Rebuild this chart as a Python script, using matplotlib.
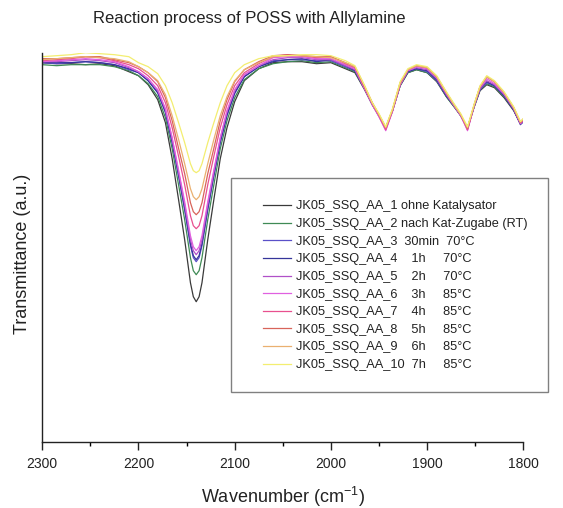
import matplotlib
matplotlib.use("Agg")
import matplotlib.pyplot as plt
from matplotlib.patches import Rectangle

plt.rcParams['font.family'] = ['Liberation Sans', 'DejaVu Sans']
plt.rcParams['mathtext.fontset'] = 'custom'
plt.rcParams['mathtext.rm'] = 'Liberation Sans'

# wavenumber grid (cm-1)
wavenumber = [2300, 2285, 2270, 2255, 2240, 2225, 2210,
              2200, 2190, 2180, 2172, 2165, 2158, 2152, 2146, 2143, 2140,
              2137, 2134, 2128, 2122, 2115, 2108, 2100, 2090, 2075,
              2060, 2045, 2030, 2015, 2000, 1985, 1975, 1965, 1957, 1950,
              1943, 1936, 1928, 1920, 1911, 1900, 1890, 1880, 1872, 1865,
              1858, 1851, 1845, 1838, 1830, 1820, 1810, 1803, 1800]

# transmittance (a.u.) per sample
aa_1 = [379, 378, 378, 377, 378, 376, 370,
        366, 357, 342, 319, 283, 240, 202, 159, 145, 140,
        145, 159, 202, 240, 283, 314, 340, 361, 373,
        379, 380, 380, 378, 379, 373, 369, 352, 337, 326,
        314, 331, 356, 369, 372, 369, 360, 345, 335, 326,
        314, 335, 351, 357, 354, 344, 331, 318, 320]
aa_2 = [377, 376, 377, 377, 377, 375, 371,
        366, 358, 345, 324, 293, 255, 222, 184, 171, 167,
        171, 184, 222, 255, 293, 321, 344, 362, 373,
        378, 380, 381, 379, 380, 374, 370, 353, 337, 326,
        314, 331, 356, 369, 372, 369, 361, 345, 335, 326,
        314, 335, 352, 358, 355, 345, 332, 318, 321]
aa_3 = [379, 378, 379, 380, 379, 377, 372,
        369, 361, 349, 329, 299, 264, 232, 196, 184, 180,
        184, 196, 232, 264, 299, 326, 348, 365, 375,
        381, 382, 382, 381, 381, 375, 371, 353, 338, 326,
        313, 331, 357, 370, 373, 370, 361, 346, 336, 326,
        313, 336, 352, 359, 356, 346, 332, 318, 320]
aa_4 = [379, 379, 379, 380, 379, 377, 373,
        369, 361, 349, 330, 300, 265, 233, 198, 186, 182,
        186, 198, 233, 265, 300, 327, 349, 365, 375,
        380, 382, 383, 380, 382, 376, 371, 354, 338, 326,
        313, 331, 357, 370, 373, 371, 362, 346, 336, 326,
        313, 336, 353, 360, 356, 346, 332, 317, 320]
aa_5 = [380, 380, 381, 382, 381, 379, 374,
        370, 363, 351, 332, 303, 268, 237, 202, 191, 187,
        191, 202, 237, 268, 303, 330, 351, 367, 376,
        382, 384, 384, 382, 382, 376, 372, 353, 337, 325,
        312, 331, 357, 371, 374, 372, 363, 347, 336, 326,
        312, 336, 353, 361, 357, 347, 333, 318, 321]
aa_6 = [380, 381, 382, 383, 382, 380, 375,
        370, 363, 352, 333, 304, 270, 240, 206, 195, 191,
        195, 206, 240, 270, 304, 331, 352, 367, 376,
        384, 385, 385, 383, 383, 377, 373, 353, 337, 325,
        311, 330, 357, 371, 375, 373, 364, 348, 336, 326,
        311, 336, 354, 363, 358, 348, 333, 318, 321]
aa_7 = [381, 382, 383, 385, 384, 381, 377,
        373, 366, 356, 339, 314, 284, 257, 226, 216, 213,
        216, 226, 257, 284, 314, 337, 356, 369, 378,
        385, 387, 386, 384, 385, 378, 374, 354, 338, 326,
        312, 331, 358, 372, 376, 374, 365, 349, 337, 327,
        312, 337, 355, 365, 360, 349, 334, 319, 322]
aa_8 = [383, 383, 384, 385, 385, 382, 379,
        375, 369, 360, 344, 321, 292, 268, 239, 230, 227,
        230, 239, 268, 292, 321, 342, 360, 372, 380,
        386, 387, 386, 385, 385, 379, 375, 355, 339, 327,
        314, 332, 359, 372, 376, 374, 365, 349, 337, 327,
        313, 337, 355, 365, 360, 349, 334, 319, 322]
aa_9 = [382, 383, 384, 385, 384, 383, 380,
        375, 369, 361, 347, 326, 301, 278, 253, 245, 242,
        245, 253, 278, 301, 326, 345, 361, 372, 379,
        385, 386, 386, 385, 384, 379, 375, 356, 339, 327,
        314, 332, 359, 372, 376, 374, 365, 349, 337, 327,
        314, 337, 355, 365, 360, 349, 334, 320, 323]
aa_10 = [385, 386, 387, 389, 388, 387, 385,
         379, 375, 368, 356, 339, 318, 299, 278, 271, 269,
         271, 278, 299, 318, 339, 356, 369, 377, 383,
         386, 386, 387, 387, 386, 381, 376, 356, 339, 328,
         315, 333, 360, 373, 377, 375, 366, 350, 338, 328,
         315, 338, 356, 366, 361, 350, 335, 320, 323]

spectra = [aa_1, aa_2, aa_3, aa_4, aa_5, aa_6, aa_7, aa_8, aa_9, aa_10]
labels = [
    'JK05_SSQ_AA_1 ohne Katalysator',
    'JK05_SSQ_AA_2 nach Kat-Zugabe (RT)',
    'JK05_SSQ_AA_3  30min  70°C',
    'JK05_SSQ_AA_4    1h     70°C',
    'JK05_SSQ_AA_5    2h     70°C',
    'JK05_SSQ_AA_6    3h     85°C',
    'JK05_SSQ_AA_7    4h     85°C',
    'JK05_SSQ_AA_8    5h     85°C',
    'JK05_SSQ_AA_9    6h     85°C',
    'JK05_SSQ_AA_10  7h     85°C',
]
colors = ['#3a3a3a', '#3f8a55', '#5a50c8', '#35359a', '#b050c8',
          '#e060e0', '#e8508f', '#d8645a', '#eab070', '#f3ee70']

fig = plt.figure(figsize=(5.63, 5.08), dpi=100)
ax = fig.add_axes([0.0751, 0.1305, 0.8544, 0.7658])

lines = []
for spec, col, lab in zip(spectra, colors, labels):
    ln, = ax.plot(wavenumber, spec, color=col, lw=0.9, label=lab)
    lines.append(ln)

ax.set_xlim(2300, 1800)
ax.set_ylim(0, 389)
ax.set_xticks([2300, 2200, 2100, 2000, 1900, 1800])
ax.set_xticks([2250, 2150, 2050, 1950, 1850], minor=True)
ax.set_yticks([])
ax.tick_params(axis='x', which='major', direction='out', length=6, width=1.0,
               labelsize=10, pad=5, colors='#222222')
ax.tick_params(axis='x', which='minor', direction='out', length=3, width=1.0)
for side in ['top', 'right']:
    ax.spines[side].set_visible(False)
for side in ['left', 'bottom']:
    ax.spines[side].set_linewidth(1.0)
    ax.spines[side].set_color('#222222')

# titles and axis labels
fig.text(249.5 / 563, 1 - 18 / 508, 'Reaction process of POSS with Allylamine',
         ha='center', va='center', fontsize=12, color='#222222')
fig.text(283 / 563, 1 - 497 / 508, 'Wavenumber (cm$^{\\mathregular{-1}}$)',
         ha='center', va='center', fontsize=13, color='#222222')
fig.text(23 / 563, 1 - 254 / 508, 'Transmittance (a.u.)', rotation=90,
         ha='center', va='center', fontsize=13, color='#222222')

# legend with hand placed frame
fig.patches.append(Rectangle((231 / 563, 1 - 392 / 508), 317 / 563, 214 / 508,
                             transform=fig.transFigure, fill=False,
                             edgecolor='#808080', lw=1.0))
ax.legend(handles=lines, loc='upper left', bbox_to_anchor=(263 / 563, 1 - 200.5 / 508),
          bbox_transform=fig.transFigure, frameon=False, fontsize=9.2,
          borderpad=0, borderaxespad=0, labelspacing=0.44, handlelength=2.2,
          handletextpad=0.4, labelcolor='#222222')

fig.savefig('out.png', dpi=100, facecolor='white')
